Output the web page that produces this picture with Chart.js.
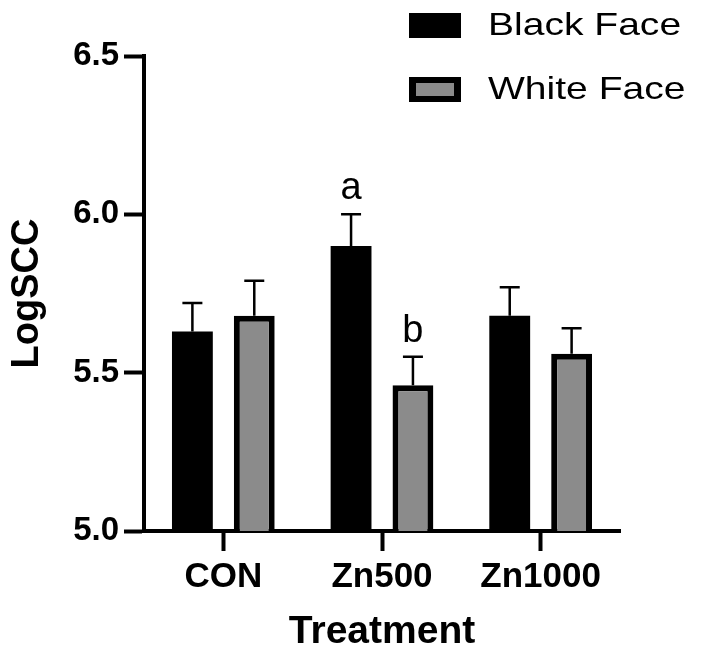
<!DOCTYPE html>
<html>
<head>
<meta charset="utf-8">
<title>LogSCC by Treatment</title>
<script src="https://cdn.jsdelivr.net/npm/chart.js@4.4.1/dist/chart.umd.min.js"></script>
<style>
  html, body { margin: 0; padding: 0; background: #fff; }
  #chart-box { width: 702px; height: 650px; }
</style>
</head>
<body>
<div id="chart-box"><canvas id="scc-chart" width="702" height="650"></canvas></div>
<script>
// Данные графика
const treatments = ["CON", "Zn500", "Zn1000"];
const blackFace = [5.63, 5.90, 5.68];
const whiteFace = [5.68, 5.46, 5.56];
const blackFaceSem = [0.09, 0.10, 0.09];
const whiteFaceSem = [0.11, 0.09, 0.08];
const blackFaceLetters = ["", "a", ""];
const whiteFaceLetters = ["", "b", ""];
const yTicks = [5.0, 5.5, 6.0, 6.5];

const fontFamily = "'Liberation Sans', Arial, sans-serif";

// Планки ошибок (только вверх) и буквы значимости
const errorBars = {
  id: "errorBars",
  afterDatasetsDraw(chart) {
    const ctx = chart.ctx;
    const yScale = chart.scales.y;
    chart.data.datasets.forEach((ds, i) => {
      const meta = chart.getDatasetMeta(i);
      meta.data.forEach((bar, j) => {
        const top = yScale.getPixelForValue(ds.data[j] + ds.sem[j]);
        ctx.save();
        ctx.strokeStyle = "#000";
        ctx.lineWidth = 2.5;
        ctx.beginPath();
        ctx.moveTo(bar.x, bar.y);
        ctx.lineTo(bar.x, top);
        ctx.moveTo(bar.x - 10, top);
        ctx.lineTo(bar.x + 10, top);
        ctx.stroke();
        if (ds.letters[j]) {
          ctx.fillStyle = "#000";
          ctx.font = "38px " + fontFamily;
          ctx.textAlign = "center";
          ctx.textBaseline = "alphabetic";
          ctx.fillText(ds.letters[j], bar.x, top - 15);
        }
        ctx.restore();
      });
    });
  }
};

// Легенда справа вверху
const faceLegend = {
  id: "faceLegend",
  afterDraw(chart) {
    const ctx = chart.ctx;
    chart.data.datasets.forEach((ds, i) => {
      const y = 13 + i * 64;
      ctx.save();
      ctx.fillStyle = "#000";
      ctx.fillRect(409, y, 52, 25);
      if (ds.borderWidth > 0) {
        ctx.fillStyle = ds.backgroundColor;
        ctx.fillRect(416, y + 6, 38, 13);
      }
      ctx.fillStyle = "#000";
      ctx.font = "32px " + fontFamily;
      ctx.textBaseline = "middle";
      ctx.translate(488, y + 13);
      ctx.scale(1.22, 1);
      ctx.fillText(ds.label, 0, 0);
      ctx.restore();
    });
  }
};

const ctx = document.getElementById("scc-chart").getContext("2d");
const chart = new Chart(ctx, {
  type: "bar",
  data: {
    labels: treatments,
    datasets: [
      {
        label: "Black Face",
        data: blackFace,
        sem: blackFaceSem,
        letters: blackFaceLetters,
        backgroundColor: "#000",
        borderColor: "#000",
        borderWidth: 0,
      },
      {
        label: "White Face",
        data: whiteFace,
        sem: whiteFaceSem,
        letters: whiteFaceLetters,
        backgroundColor: "#8b8b8b",
        borderColor: "#000",
        borderWidth: 6,
        borderSkipped: false,
      },
    ],
  },
  options: {
    responsive: false,
    animation: false,
    datasets: {
      bar: { categoryPercentage: 0.78, barPercentage: 0.66 },
    },
    layout: { padding: { top: 56, right: 82, bottom: 0, left: 0 } },
    plugins: {
      legend: { display: false },
      tooltip: { enabled: false },
    },
    scales: {
      x: {
        afterFit: (scale) => { scale.height = 119; },
        grid: {
          offset: false,
          drawOnChartArea: false,
          drawTicks: true,
          tickLength: 20,
          tickWidth: 4,
          tickColor: "#000",
        },
        border: { display: true, color: "#000", width: 4 },
        ticks: {
          color: "#000",
          padding: 5,
          font: { family: fontFamily, size: 35, weight: "bold" },
        },
        title: {
          display: true,
          text: "Treatment",
          color: "#000",
          padding: 0,
          font: { family: fontFamily, size: 39, weight: "bold", lineHeight: 0.9 },
        },
      },
      y: {
        min: 5,
        max: 6.5,
        afterFit: (scale) => { scale.width = 144; },
        afterBuildTicks: (scale) => {
          scale.ticks = yTicks.map((v) => ({ value: v }));
        },
        grid: {
          drawOnChartArea: false,
          drawTicks: true,
          tickLength: 20,
          tickWidth: 4,
          tickColor: "#000",
        },
        border: { display: true, color: "#000", width: 4 },
        ticks: {
          color: "#000",
          padding: 5,
          callback: (v) => Number(v).toFixed(1),
          font: { family: fontFamily, size: 33, weight: "bold" },
        },
        title: {
          display: true,
          text: "LogSCC",
          color: "#000",
          padding: { top: 5, bottom: 0 },
          font: { family: fontFamily, size: 38, weight: "bold" },
        },
      },
    },
  },
  plugins: [errorBars, faceLegend],
});
</script>
</body>
</html>
